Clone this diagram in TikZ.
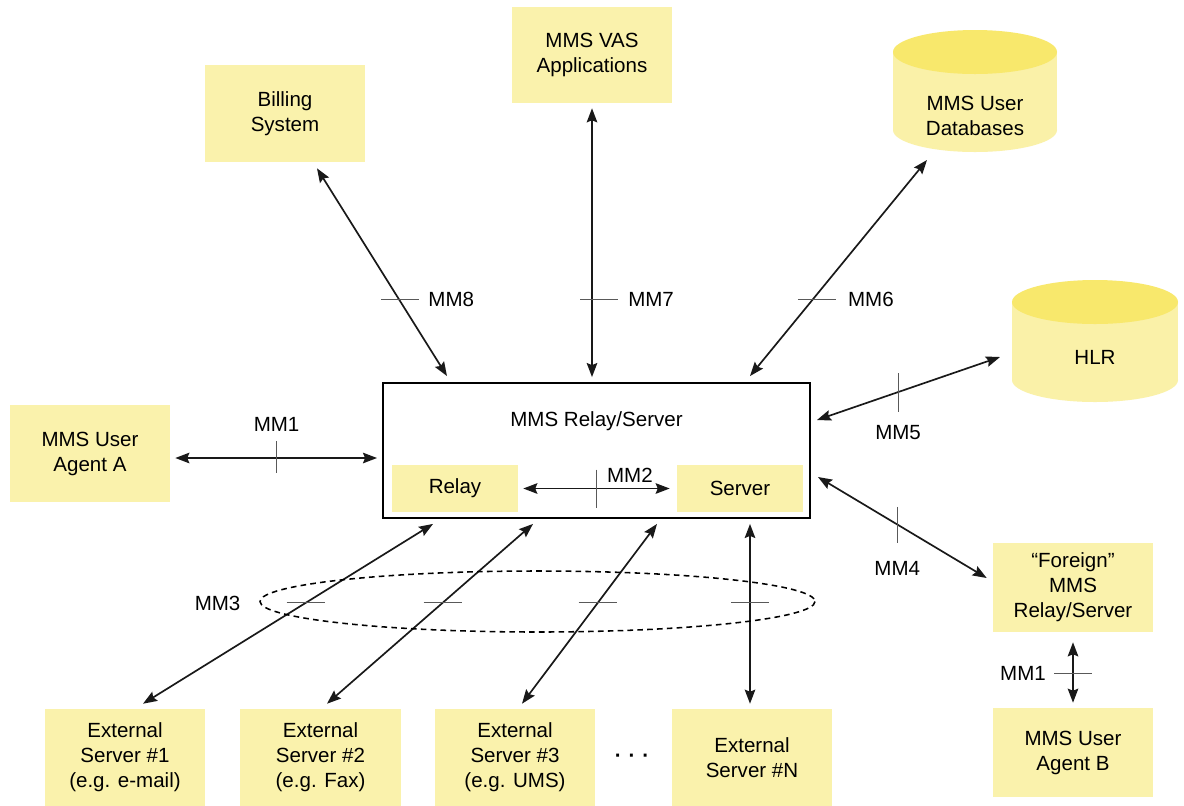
\documentclass[tikz,border=0pt]{standalone}
\usepackage{fontspec}
\setmainfont{Liberation Sans}
\usetikzlibrary{arrows.meta,calc}
\definecolor{boxfill}{RGB}{250,242,172}
\definecolor{cyltop}{RGB}{248,232,108}
\definecolor{cylbody}{RGB}{250,241,168}
\begin{document}
\begin{tikzpicture}[x=0.025cm,y=-0.025cm,
  font=\fontsize{14.6}{17.8}\selectfont,
  ybox/.style={fill=boxfill, draw=none, align=center, inner sep=0pt,
               minimum width=4cm, minimum height=2.425cm},
  link/.style={line width=1.2pt, draw=black!90,
               {Stealth[length=10pt,width=7.5pt,inset=1.5pt]}-{Stealth[length=10pt,width=7.5pt,inset=1.5pt]}},
  tick/.style={line width=0.7pt, draw=black!65},
  lbl/.style={inner sep=0pt}]
\useasboundingbox (0,0) rectangle (1184,805);
\fill[white] (0,0) rectangle (1184,805);

% ---- peripheral elements ----
\node[ybox] (bill) at (285,113.5) {Billing\\System};
\node[ybox, minimum height=2.4cm] (vas) at (592,55) {MMS VAS\\Applications};

% user database (cylinder)
\fill[cylbody] (893,52) rectangle (1057,130);
\fill[cylbody] (975,130) ellipse[x radius=82, y radius=22];
\fill[cyltop] (975,52) ellipse[x radius=82, y radius=22];
\node[align=center] (db) at (975,116) {MMS User\\Databases};

% HLR (cylinder)
\fill[cylbody] (1012,302) rectangle (1178,380);
\fill[cylbody] (1095,380) ellipse[x radius=83, y radius=22];
\fill[cyltop] (1095,302) ellipse[x radius=83, y radius=22];
\node (hlr) at (1095,357) {HLR};

\node[ybox] (uaA) at (90,453.5) {MMS User\\Agent A};

% ---- MMS Relay/Server ----
\node[draw, line width=1.3pt, fill=white, inner sep=0pt,
      minimum width=10.675cm, minimum height=3.375cm] (mms) at (596.5,450.5) {};
\node (mmstitle) at (596.5,421) {MMS Relay/Server};
\node[ybox, minimum width=3.15cm, minimum height=1.175cm] (relay) at (455,488.5) {Relay};
\node[ybox, minimum width=3.15cm, minimum height=1.175cm] (server) at (740,488.5) {Server};

\node[ybox, minimum height=2.225cm] (foreign) at (1073,587.5) {“Foreign”\\MMS\\Relay/Server};
\node[ybox, minimum height=2.225cm] (uaB) at (1073,752.5) {MMS User\\Agent B};

% ---- external servers ----
\node[ybox] (ext1) at (125,757.5) {External\\Server \#1\\(e.g. e-mail)};
\node[ybox] (ext2) at (320.5,757.5) {External\\Server \#2\\(e.g. Fax)};
\node[ybox] (ext3) at (515,757.5) {External\\Server \#3\\(e.g. UMS)};
\node[ybox] (extN) at (752,757.5) {External\\Server \#N};
\node (dots) at (632,758) {\textbf{·\,\,·\,\,·}};

% ---- reference points ----
\draw[link] ([shift={(32,6)}]bill.south) -- coordinate[pos=0.632] (t8) ([shift={(-149.5,-6)}]mms.north);
\draw[link] ([shift={(0,5)}]vas.south) -- coordinate[pos=0.711] (t7) ([shift={(-4.5,-5)}]mms.north);
\draw[link] ([shift={(-48,44)}]db.center) -- coordinate[pos=0.645] (t6) ([shift={(153.5,-6)}]mms.north);
\draw[link] ([shift={(-95,0)}]hlr.center) -- coordinate[pos=0.557] (t5) ([shift={(6,-30.5)}]mms.east);
\draw[link] ([shift={(7,26.5)}]mms.east) -- coordinate[pos=0.47] (t4) ([shift={(-6,-9.5)}]foreign.west);
\draw[link] ([shift={(0,10)}]foreign.south) -- coordinate[pos=0.508] (t1b) ([shift={(0,-5)}]uaB.north);
\draw[link] ([shift={(5,4.5)}]uaA.east) -- coordinate[pos=0.502] (t1) ([shift={(-5,7.5)}]mms.west);
\draw[link] ([shift={(5,0)}]relay.east) -- coordinate[pos=0.503] (t2) ([shift={(-7,0)}]server.west);
\draw[link] ([shift={(18,-5)}]ext1.north) -- coordinate[pos=0.561] (t3a) ([shift={(-163.5,5)}]mms.south);
\draw[link] ([shift={(6.5,-5)}]ext2.north) -- coordinate[pos=0.561] (t3b) ([shift={(-63.5,5)}]mms.south);
\draw[link] ([shift={(7,-5)}]ext3.north) -- coordinate[pos=0.561] (t3c) ([shift={(60.5,5)}]mms.south);
\draw[link] ([shift={(-2,-5)}]extN.north) -- coordinate[pos=0.561] (t3d) ([shift={(153.5,5)}]mms.south);

% MM3 group
\draw[line width=1.1pt, dash pattern=on 4pt off 3pt] (537.5,601.5) ellipse[x radius=277.5, y radius=30.5];

% ---- interface ticks and labels ----
\draw[tick] ([shift={(-18,0)}]t8) -- ([shift={(20,0)}]t8);
\node[lbl, anchor=west] (l8) at ([shift={(29,0)}]t8) {MM8};
\draw[tick] ([shift={(-12,0)}]t7) -- ([shift={(26,0)}]t7);
\node[lbl, anchor=west] (l7) at ([shift={(36,0)}]t7) {MM7};
\draw[tick] ([shift={(-15,0)}]t6) -- ([shift={(23,0)}]t6);
\node[lbl, anchor=west] (l6) at ([shift={(35,0)}]t6) {MM6};
\draw[tick] ([shift={(0,-19)}]t5) -- ([shift={(0,20)}]t5);
\node[lbl] (l5) at ([shift={(0,40)}]t5) {MM5};
\draw[tick] ([shift={(0,-17.5)}]t4) -- ([shift={(0,18.5)}]t4);
\node[lbl] (l4) at ([shift={(0,43.5)}]t4) {MM4};
\draw[tick] ([shift={(0,-17)}]t1) -- ([shift={(0,15)}]t1);
\node[lbl] (l1) at ([shift={(0,-34)}]t1) {MM1};
\draw[tick] ([shift={(0,-19)}]t2) -- ([shift={(0,19)}]t2);
\node[lbl] (l2) at ([shift={(33,-13)}]t2) {MM2};
\draw[tick] ([shift={(-19,0)}]t1b) -- ([shift={(19,0)}]t1b);
\node[lbl] (l1b) at ([shift={(-50,0)}]t1b) {MM1};
\foreach \t in {t3a,t3b,t3c,t3d}
  \draw[tick] ([shift={(-19,0)}]\t) -- ([shift={(19,0)}]\t);
\node[lbl, anchor=east] (l3) at ([shift={(-65,1)}]t3a) {MM3};
\end{tikzpicture}
\end{document}
